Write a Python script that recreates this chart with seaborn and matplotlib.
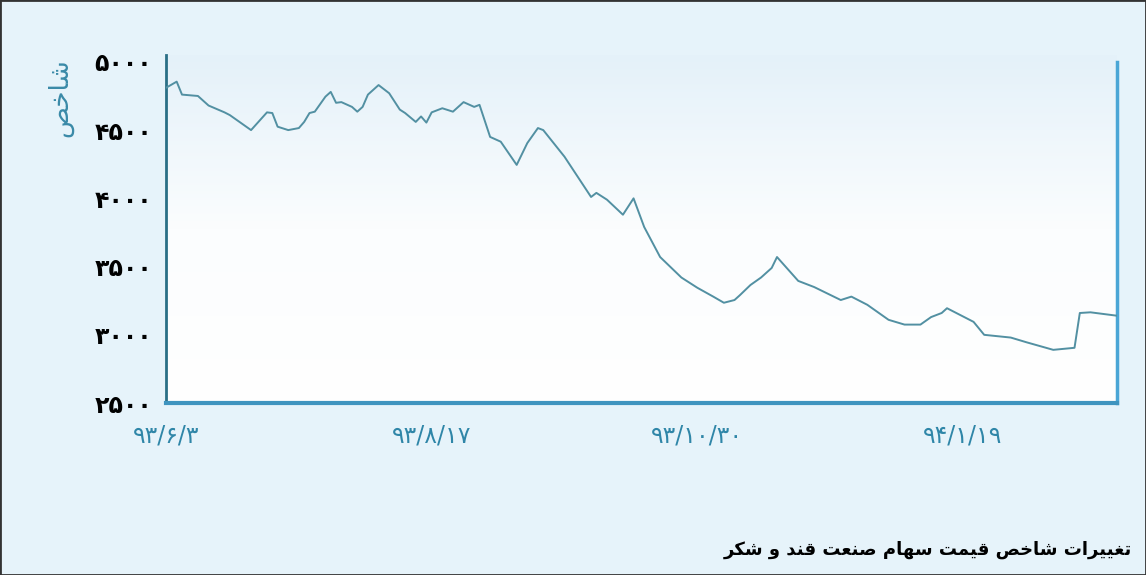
import matplotlib
matplotlib.use("Agg")
import matplotlib.pyplot as plt
import numpy as np
import pandas as pd
import seaborn as sns
from matplotlib.colors import LinearSegmentedColormap
from matplotlib.patches import Rectangle

# trading-day index and index value
day = [0, 2, 3, 6, 8, 11, 12, 16, 19, 20, 21, 23, 25, 26, 27, 28, 30, 31, 32, 33,
       35, 36, 37, 38, 40, 42, 44, 45, 47, 48, 49, 50, 52, 54, 56, 58, 59, 61, 63, 66,
       68, 70, 71, 75, 80, 81, 83, 86, 88, 90, 93, 97, 100, 103, 105, 107, 108, 110, 112, 114,
       115, 119, 122, 127, 129, 132, 136, 139, 142, 144, 146, 147, 152, 154, 159, 162, 167, 171, 172, 174,
       179]
value = [4810, 4855, 4760, 4750, 4680, 4630, 4610, 4500, 4630, 4625, 4525, 4500, 4515, 4560, 4625, 4635, 4745, 4780, 4700, 4705,
         4670, 4635, 4670, 4760, 4830, 4770, 4650, 4625, 4560, 4600, 4555, 4630, 4660, 4635, 4705, 4670, 4685, 4450, 4415, 4245,
         4405, 4515, 4500, 4305, 4010, 4040, 3990, 3880, 4000, 3790, 3570, 3420, 3345, 3280, 3235, 3255, 3290, 3365, 3420, 3490,
         3570, 3395, 3350, 3255, 3280, 3220, 3110, 3075, 3075, 3130, 3160, 3195, 3095, 3000, 2980, 2945, 2890, 2905, 3160, 3165,
         3140]

x_ticks = [0, 50, 100, 150]
x_labels = ["۹۳/۶/۳", "۹۳/۸/۱۷", "۹۳/۱۰/۳۰", "۹۴/۱/۱۹"]
y_ticks = [2500, 3000, 3500, 4000, 4500, 5000]
y_labels = ["۲۵۰۰", "۳۰۰۰", "۳۵۰۰", "۴۰۰۰", "۴۵۰۰", "۵۰۰۰"]

y_title = "شاخص"
caption = "تغییرات شاخص قیمت سهام صنعت قند و شکر"

# matplotlib has no Arabic shaping: pick presentation forms by hand
# (isolated, final, initial, medial); None = letter does not join forward
FORMS = {
    "ا": ("\ufe8d", "\ufe8e", None, None),
    "د": ("\ufea9", "\ufeaa", None, None),
    "ر": ("\ufead", "\ufeae", None, None),
    "و": ("\ufeed", "\ufeee", None, None),
    "ت": ("\ufe95", "\ufe96", "\ufe97", "\ufe98"),
    "خ": ("\ufea5", "\ufea6", "\ufea7", "\ufea8"),
    "س": ("\ufeb1", "\ufeb2", "\ufeb3", "\ufeb4"),
    "ش": ("\ufeb5", "\ufeb6", "\ufeb7", "\ufeb8"),
    "ص": ("\ufeb9", "\ufeba", "\ufebb", "\ufebc"),
    "ع": ("\ufec9", "\ufeca", "\ufecb", "\ufecc"),
    "غ": ("\ufecd", "\ufece", "\ufecf", "\ufed0"),
    "ق": ("\ufed5", "\ufed6", "\ufed7", "\ufed8"),
    "ک": ("\ufed9", "\ufeda", "\ufedb", "\ufedc"),
    "م": ("\ufee1", "\ufee2", "\ufee3", "\ufee4"),
    "ن": ("\ufee5", "\ufee6", "\ufee7", "\ufee8"),
    "ه": ("\ufee9", "\ufeea", "\ufeeb", "\ufeec"),
    "ی": ("\ufef1", "\ufef2", "\ufef3", "\ufef4"),
}


def shape(text):
    out = []
    for i, ch in enumerate(text):
        if ch not in FORMS:
            out.append(ch)
            continue
        prev = text[i - 1] if i > 0 else ""
        nxt = text[i + 1] if i + 1 < len(text) else ""
        iso, fin, ini, med = FORMS[ch]
        join_prev = prev in FORMS and FORMS[prev][2] is not None
        join_next = nxt in FORMS and ini is not None
        if join_prev and join_next:
            out.append(med)
        elif join_prev:
            out.append(fin)
        elif join_next:
            out.append(ini)
        else:
            out.append(iso)
    return "".join(reversed(out))


sns.set_theme(style="white")
plt.rcParams["font.family"] = ["DejaVu Sans"]

df = pd.DataFrame({"day": day, "value": value})

fig = plt.figure(figsize=(11.46, 5.75), dpi=100, facecolor="#e6f3fa")
ax = fig.add_axes([0.1449, 0.299, 0.8298, 0.6053])

# soft blue-to-white backdrop inside the plot area
cmap = LinearSegmentedColormap.from_list("bg", ["#ffffff", "#fbfdfe", "#e4f1f9"])
grad = np.linspace(0, 1, 256)[:, None]
ax.imshow(grad, extent=[0, 1, 0, 1], transform=ax.transAxes, cmap=cmap,
          origin="lower", aspect="auto", zorder=0)

sns.lineplot(data=df, x="day", y="value", color="#5290a2", linewidth=1.4, ax=ax, zorder=3)

ax.set_xlim(0, 179)
ax.set_ylim(2500, 5050)
ax.set_aspect("auto")

ax.set_xticks(x_ticks)
ax.set_xticklabels(x_labels, fontsize=17, color="#2f86a8")
ax.set_yticks(y_ticks)
ax.set_yticklabels(y_labels, fontsize=17, fontweight="bold", color="black")
ax.tick_params(axis="x", direction="out", length=4, width=1.2, color="#1f5f78", pad=11)
ax.tick_params(axis="y", length=0, pad=10)
ax.set_xlabel("")
ax.set_ylabel("")

ax.spines["top"].set_visible(False)
ax.spines["left"].set_color("#2a6f86")
ax.spines["left"].set_linewidth(2)
ax.spines["bottom"].set_color("#3f94bf")
ax.spines["bottom"].set_linewidth(3)
ax.spines["right"].set_color("#4aa6d6")
ax.spines["right"].set_linewidth(2.5)
ax.spines["right"].set_bounds(2500, 5000)

fig.text(0.053, 0.831, shape(y_title), rotation=90, fontsize=19,
         color="#3a8aa8", ha="center", va="center")
fig.text(0.988, 0.043, shape(caption), fontsize=13, fontweight="bold",
         color="black", ha="right", va="center")

fig.patches.append(Rectangle((0, 0), 1, 1, transform=fig.transFigure, fill=False,
                             edgecolor="#333333", linewidth=2))

fig.savefig("out.png", dpi=100, facecolor=fig.get_facecolor())
